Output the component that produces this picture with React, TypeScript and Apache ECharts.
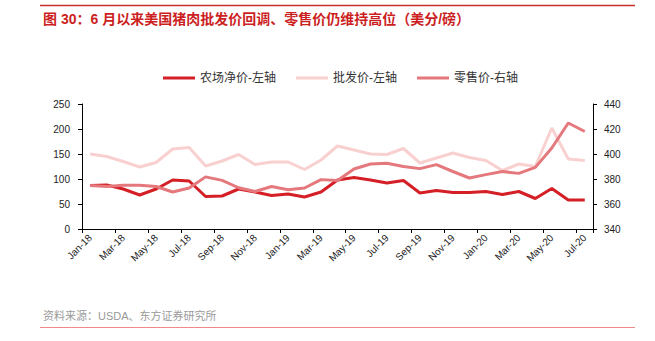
import React, { useEffect, useRef } from "react";
import * as echarts from "echarts";

const categories = [
  "Jan-18", "Feb-18", "Mar-18", "Apr-18", "May-18", "Jun-18", "Jul-18", "Aug-18", "Sep-18", "Oct-18", "Nov-18", "Dec-18",
  "Jan-19", "Feb-19", "Mar-19", "Apr-19", "May-19", "Jun-19", "Jul-19", "Aug-19", "Sep-19", "Oct-19", "Nov-19", "Dec-19",
  "Jan-20", "Feb-20", "Mar-20", "Apr-20", "May-20", "Jun-20", "Jul-20",
];

const farmPrice = [87, 88, 80, 68, 80, 98, 96, 65, 66, 80, 74, 67, 70, 64, 74, 98, 103, 98, 92, 97, 72, 77, 73, 73, 75, 69, 75, 61, 81, 58, 58];
const wholesalePrice = [150, 145, 135, 124, 133, 160, 163, 126, 136, 149, 129, 134, 134, 119, 138, 166, 158, 150, 149, 161, 132, 142, 152, 143, 137, 117, 130, 125, 202, 140, 137];
const retailPrice = [374.8, 374, 375, 375, 374, 369.6, 372.8, 381.7, 378.9, 373, 370, 374, 371.4, 372.8, 379.5, 378.8, 388, 392, 392.6, 390, 388.3, 391.5, 386, 380.8, 383.5, 386, 384.5, 389.3, 404.8, 424.8, 418];

const seriesNames = ["农场净价-左轴", "批发价-左轴", "零售价-右轴"];
const titleText = "图 30：6 月以来美国猪肉批发价回调、零售价仍维持高位（美分/磅）";
const sourceText = "资料来源：USDA、东方证券研究所";

const FONT = "'Liberation Sans', Arial, 'Noto Sans CJK SC', sans-serif";

export default function App() {
  const ref = useRef<HTMLDivElement>(null);
  useEffect(() => {
    if (!ref.current) return;
    const chart = echarts.init(ref.current, undefined, { renderer: "svg" });
    const axisLabel = { fontSize: 10, color: "#222", fontFamily: FONT };
    chart.setOption({
      animation: false,
      backgroundColor: "#fff",
      textStyle: { fontFamily: FONT },
      color: ["#D51F26", "#F9D0D0", "#E5787D"],
      legend: {
        left: 158,
        top: 67,
        icon: "rect",
        itemWidth: 32,
        itemHeight: 3,
        itemGap: 20,
        textStyle: { fontSize: 12, color: "#333", fontFamily: FONT },
        data: seriesNames,
      },
      grid: { left: 82, right: 62, top: 104, bottom: 112, containLabel: false },
      xAxis: {
        type: "category",
        data: categories,
        boundaryGap: true,
        axisLine: { show: true, lineStyle: { color: "#000", width: 1 } },
        axisTick: { show: true, interval: 1, length: 4, inside: false, lineStyle: { color: "#000" } },
        axisLabel: { ...axisLabel, interval: 1, rotate: 45, margin: 7 },
        splitLine: { show: false },
      },
      yAxis: [
        {
          type: "value",
          min: 0,
          max: 250,
          interval: 50,
          position: "left",
          axisLine: { show: true, lineStyle: { color: "#000", width: 1 } },
          axisTick: { show: true, length: 4, lineStyle: { color: "#000" } },
          axisLabel: { ...axisLabel, margin: 12 },
          splitLine: { show: false },
        },
        {
          type: "value",
          min: 340,
          max: 440,
          interval: 20,
          position: "right",
          axisLine: { show: true, lineStyle: { color: "#000", width: 1 } },
          axisTick: { show: true, length: 4, lineStyle: { color: "#000" } },
          axisLabel: { ...axisLabel, margin: 11 },
          splitLine: { show: false },
        },
      ],
      series: [
        {
          name: seriesNames[0],
          type: "line",
          yAxisIndex: 0,
          data: farmPrice,
          showSymbol: false,
          symbol: "none",
          lineStyle: { width: 3, color: "#D51F26" },
          itemStyle: { color: "#D51F26" },
        },
        {
          name: seriesNames[1],
          type: "line",
          yAxisIndex: 0,
          data: wholesalePrice,
          showSymbol: false,
          symbol: "none",
          lineStyle: { width: 3, color: "#F9D0D0" },
          itemStyle: { color: "#F9D0D0" },
        },
        {
          name: seriesNames[2],
          type: "line",
          yAxisIndex: 1,
          data: retailPrice,
          showSymbol: false,
          symbol: "none",
          lineStyle: { width: 3, color: "#E5787D" },
          itemStyle: { color: "#E5787D" },
        },
      ],
      graphic: [
        {
          type: "line",
          shape: { x1: 40, y1: 5.5, x2: 635, y2: 5.5 },
          style: { stroke: "#C8312B", lineWidth: 1.3 },
        },
        {
          type: "text",
          x: 43,
          y: 18.5,
          style: {
            text: titleText,
            fill: "#CC1F1F",
            fontSize: 14,
            fontWeight: "bold",
            fontFamily: FONT,
            verticalAlign: "middle",
            align: "left",
          },
        },
        {
          type: "text",
          x: 43,
          y: 316,
          style: {
            text: sourceText,
            fill: "#9A9A9A",
            fontSize: 11,
            fontFamily: FONT,
            verticalAlign: "middle",
            align: "left",
          },
        },
        {
          type: "line",
          shape: { x1: 40, y1: 327.5, x2: 635, y2: 327.5 },
          style: { stroke: "#F08A8A", lineWidth: 1 },
        },
      ],
    });
    return () => chart.dispose();
  }, []);
  return (
    <div
      ref={ref}
      style={{ position: "fixed", left: 0, top: 0, width: 655, height: 341, background: "#fff" }}
    />
  );
}
